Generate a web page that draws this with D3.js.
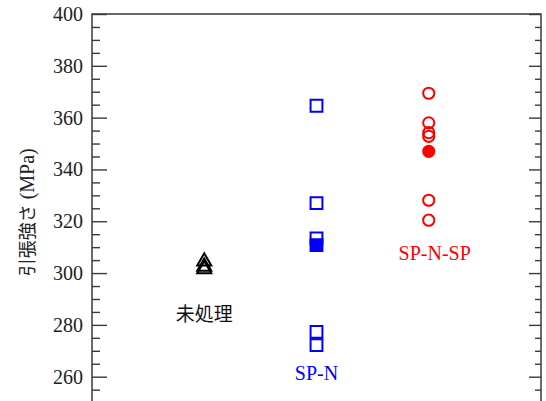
<!DOCTYPE html>
<html><head><meta charset="utf-8">
<script src="https://cdn.jsdelivr.net/npm/d3@7/dist/d3.min.js"></script>
<style>body{margin:0;background:#fff}svg{display:block}
.serif{font-family:"Liberation Serif","Times New Roman",serif}
.jp{font-family:"Noto Sans CJK JP",sans-serif}
</style>
</head><body>
<svg id="c" width="546" height="401"></svg>
<script>
// ---- data ----
const categories = ["未処理", "SP-N", "SP-N-SP"];
const untreatedValues = [304.5, 302.5, 301.5];
const spnValues = [364.6, 327.0, 313.4, 277.3, 272.2];
const spnMean = [310.8];
const spnspValues = [369.4, 358.0, 354.2, 352.8, 328.1, 320.4];
const spnspMean = [347.0];
const yTicks = [260, 280, 300, 320, 340, 360, 380, 400];
const yDomain = [250, 400];
const yTitleJp = "引張強さ";
const yTitleUnit = " (MPa)";

// ---- layout ----
const svg = d3.select("#c");
const L = 92, R = 541, T = 14, B = 402.6;
const x = d3.scalePoint().domain(categories).range([L, R]).padding(1);
const y = d3.scaleLinear().domain(yDomain).range([B, T]);
const minorTicks = d3.range(255, 400, 5).filter(v => v % 20 !== 0);
const axisColor = "#3a3a3a";
const SERIF = '"Liberation Serif","Times New Roman",serif';

// left axis major
const gl = svg.append("g").attr("transform", `translate(${L},0)`)
  .call(d3.axisLeft(y).tickValues(yTicks).tickSizeInner(-15).tickSizeOuter(0).tickPadding(9));
gl.attr("font-family", SERIF).attr("font-size", 20);
gl.select(".domain").remove();
gl.selectAll(".tick line").attr("stroke", axisColor).attr("stroke-width", 1.4);
gl.selectAll(".tick text").style("font-family", SERIF)
  .style("font-size", "20px").attr("fill", "#222");
// left minor
const glm = svg.append("g").attr("transform", `translate(${L},0)`)
  .call(d3.axisLeft(y).tickValues(minorTicks).tickSizeInner(-8).tickSizeOuter(0).tickFormat(""));
glm.select(".domain").remove();
glm.selectAll(".tick line").attr("stroke", axisColor).attr("stroke-width", 1.4);
// right axis
const gr = svg.append("g").attr("transform", `translate(${R},0)`)
  .call(d3.axisRight(y).tickValues(yTicks).tickSizeInner(-12).tickSizeOuter(0).tickFormat(""));
gr.select(".domain").remove();
gr.selectAll(".tick line").attr("stroke", axisColor).attr("stroke-width", 1.4);
const grm = svg.append("g").attr("transform", `translate(${R},0)`)
  .call(d3.axisRight(y).tickValues(minorTicks).tickSizeInner(-6).tickSizeOuter(0).tickFormat(""));
grm.select(".domain").remove();
grm.selectAll(".tick line").attr("stroke", axisColor).attr("stroke-width", 1.4);

// frame
svg.append("rect").attr("x", L).attr("y", T).attr("width", R - L).attr("height", B - T)
  .attr("fill", "none").attr("stroke", axisColor).attr("stroke-width", 1.5);

// y title
const tt = svg.append("text")
  .attr("transform", `translate(34,${(T + B) / 2 + 4}) rotate(-90)`)
  .attr("text-anchor", "middle")
  .style("font-size", "20px").attr("fill", "#222");
tt.append("tspan").attr("class", "jp").style("font-size", "18px").text(yTitleJp);
tt.append("tspan").attr("class", "serif").text(yTitleUnit);

// markers
const tri = d3.symbol().type(d3.symbolTriangle).size(85);
const sq = d3.symbol().type(d3.symbolSquare).size(140);

svg.append("g").selectAll("path").data(untreatedValues).join("path")
  .attr("d", tri).attr("transform", d => `translate(${x(categories[0])},${y(d)})`)
  .attr("fill", "none").attr("stroke", "#000").attr("stroke-width", 2);

svg.append("g").selectAll("path").data(spnMean).join("path")
  .attr("d", sq).attr("transform", d => `translate(${x(categories[1])},${y(d)})`)
  .attr("fill", "#0000ff").attr("stroke", "#0000ff").attr("stroke-width", 2);
svg.append("g").selectAll("path").data(spnValues).join("path")
  .attr("d", sq).attr("transform", d => `translate(${x(categories[1])},${y(d)})`)
  .attr("fill", "none").attr("stroke", "#0000ff").attr("stroke-width", 2);

svg.append("g").selectAll("circle").data(spnspMean).join("circle")
  .attr("cx", x(categories[2])).attr("cy", d => y(d)).attr("r", 5.6)
  .attr("fill", "#ff0000").attr("stroke", "#ff0000").attr("stroke-width", 2);
svg.append("g").selectAll("circle").data(spnspValues).join("circle")
  .attr("cx", x(categories[2])).attr("cy", d => y(d)).attr("r", 5.6)
  .attr("fill", "none").attr("stroke", "#ff0000").attr("stroke-width", 2);

// group labels
svg.append("text").attr("x", x(categories[0])).attr("y", y(281.5))
  .attr("text-anchor", "middle").attr("class", "jp")
  .style("font-size", "19px").attr("fill", "#111").text(categories[0]);
svg.append("text").attr("x", x(categories[1])).attr("y", y(258.9))
  .attr("text-anchor", "middle").attr("class", "serif")
  .style("font-size", "20px").attr("fill", "#0000ff").text(categories[1]);
svg.append("text").attr("x", x(categories[2]) + 6).attr("y", y(304.9))
  .attr("text-anchor", "middle").attr("class", "serif")
  .style("font-size", "20px").attr("fill", "#ff0000").text(categories[2]);
</script>
</body></html>
